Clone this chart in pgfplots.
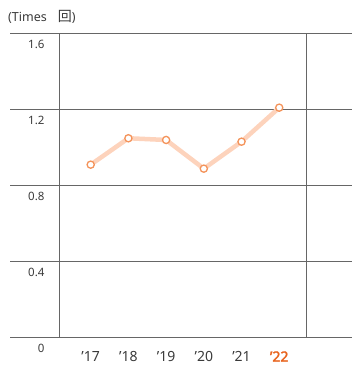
\documentclass[border=0pt]{standalone}
\usepackage{pgfplots}
\pgfplotsset{compat=1.18}
\usepackage{fontspec}
\setmainfont{Noto Sans}
\newfontfamily\boldf{Noto Sans}[FakeBold=2.5]
\newfontfamily\cjk{Noto Sans CJK JP}
\definecolor{gridc}{HTML}{666666}
\definecolor{txt}{HTML}{3A3A3A}
\definecolor{linec}{HTML}{FDD3BC}
\definecolor{markc}{HTML}{F4935A}
\definecolor{hl}{HTML}{E8641E}
\begin{document}
\begin{tikzpicture}
\begin{axis}[
  scale only axis,
  width=342bp, height=304bp,
  xmin=-2.14, xmax=6.93,
  ymin=0, ymax=1.6,
  axis line style={draw=none},
  ytick={0,0.4,0.8,1.2,1.6},
  yticklabels={0,0.4,0.8,1.2,1.6},
  ymajorgrids,
  grid style={gridc, line width=0.9bp},
  major tick length=0pt,
  yticklabel style={anchor=north east, xshift=38bp, yshift=-4bp, font=\fontsize{11.5bp}{13bp}\selectfont, text=txt},
  xtick={0,1,2,3,4,5},
  xticklabels={’17,’18,’19,’20,’21,{\boldf\color{hl}’22}},
  xticklabel style={anchor=center, yshift=-19.5bp, font=\fontsize{14bp}{16bp}\selectfont, text=txt},
  extra x ticks={-0.83,5.73},
  extra x tick labels={},
  extra x tick style={grid=major, xmajorgrids},
  /pgf/number format/assume math mode=true,
  clip=false,
]
\addplot[linec, line width=4.5bp, mark=*, mark size=3.6bp,
  mark options={fill=white, draw=markc, line width=1.3bp}]
  coordinates {(0,0.907) (1,1.046) (2,1.037) (3,0.886) (4,1.028) (5,1.207)};
\end{axis}
\node[anchor=west, text=txt, font=\fontsize{12.5bp}{14bp}\selectfont, inner sep=0pt] at ([shift={(-2bp,16bp)}]current axis.north west) {(Times\hspace{11bp}{\cjk\fontsize{14bp}{14bp}\selectfont 回})};
\pgfresetboundingbox
\useasboundingbox ([shift={(-10bp,-28bp)}]current axis.south west) rectangle ([shift={(0bp,33bp)}]current axis.north east);
\end{tikzpicture}
\end{document}
